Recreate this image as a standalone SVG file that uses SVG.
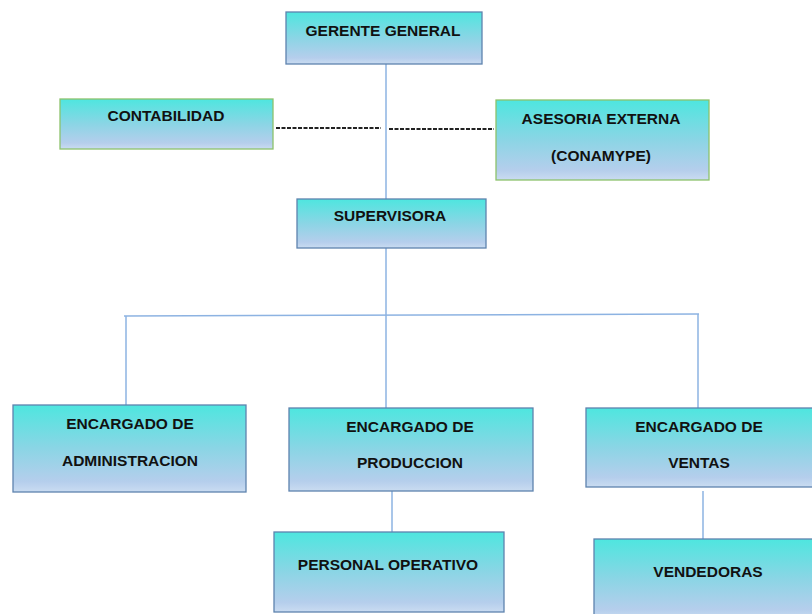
<svg xmlns="http://www.w3.org/2000/svg" width="812" height="614" viewBox="0 0 812 614">
<defs>
<linearGradient id="g" x1="0" y1="0" x2="0" y2="1">
<stop offset="0" stop-color="#4EE6DF"/>
<stop offset="0.5" stop-color="#8BD5E5"/>
<stop offset="0.88" stop-color="#B5CEEC"/>
<stop offset="1" stop-color="#CADCF1"/>
</linearGradient>
<style>
.box{fill:url(#g);stroke:#5E83AE;stroke-width:1.3}
.gbox{fill:url(#g);stroke:#8DC26C;stroke-width:1.3}
text{font-family:"Liberation Sans",Arial,sans-serif;font-weight:bold;font-size:15.5px;fill:#111;text-anchor:middle}
.c{stroke:#8DB3E2;stroke-width:1.5;fill:none}
.d{stroke:#222;stroke-width:2;stroke-dasharray:4 1.5;fill:none}
</style>
</defs>
<rect width="812" height="614" fill="#fff"/>
<g id="connectors">
<line class="c" x1="386" y1="64" x2="386" y2="199"/>
<line class="c" x1="386" y1="248" x2="386" y2="408"/>
<line class="c" x1="124" y1="316" x2="699" y2="314"/>
<line class="c" x1="126" y1="316" x2="126" y2="405"/>
<line class="c" x1="698" y1="314" x2="698" y2="408"/>
<line class="c" x1="392" y1="491" x2="392" y2="532"/>
<line class="c" x1="703" y1="491" x2="703" y2="539"/>
<line class="d" x1="276" y1="128" x2="381" y2="128"/>
<line class="d" x1="389" y1="129" x2="494" y2="129"/>
</g>
<g id="gerente">
<rect class="box" x="286" y="12" width="196" height="52"/>
<text x="383" y="36">GERENTE GENERAL</text>
</g>
<g id="contabilidad">
<rect class="gbox" x="60" y="99" width="213" height="50"/>
<text x="166" y="121">CONTABILIDAD</text>
</g>
<g id="asesoria">
<rect class="gbox" x="496" y="100" width="213" height="80"/>
<text x="601" y="123.5">ASESORIA EXTERNA</text>
<text x="601" y="160.5">(CONAMYPE)</text>
</g>
<g id="supervisora">
<rect class="box" x="297" y="199" width="189" height="49"/>
<text x="390" y="220.5">SUPERVISORA</text>
</g>
<g id="administracion">
<rect class="box" x="13" y="405" width="233" height="87"/>
<text x="130" y="428.5">ENCARGADO DE</text>
<text x="130" y="465.5">ADMINISTRACION</text>
</g>
<g id="produccion">
<rect class="box" x="289" y="408" width="244" height="83"/>
<text x="410" y="431.5">ENCARGADO DE</text>
<text x="410" y="467.5">PRODUCCION</text>
</g>
<g id="ventas">
<rect class="box" x="586" y="408" width="230" height="79"/>
<text x="699" y="431.5">ENCARGADO DE</text>
<text x="699" y="467.5">VENTAS</text>
</g>
<g id="personal">
<rect class="box" x="274" y="532" width="230" height="80"/>
<text x="388" y="569.5">PERSONAL OPERATIVO</text>
</g>
<g id="vendedoras">
<rect class="box" x="594" y="539" width="222" height="80"/>
<text x="708" y="576.5">VENDEDORAS</text>
</g>
</svg>
